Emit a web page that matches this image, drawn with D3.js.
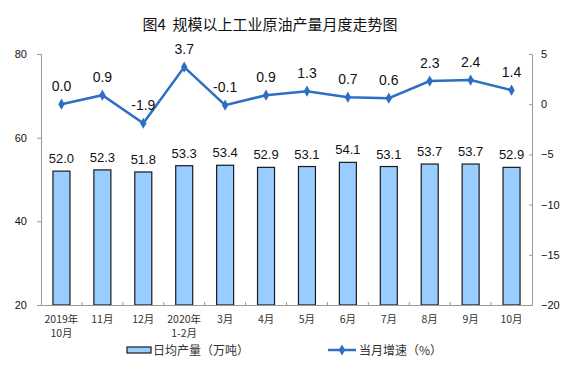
<!DOCTYPE html>
<html>
<head>
<meta charset="utf-8">
<script src="https://cdn.jsdelivr.net/npm/d3@7"></script>
<style>
  body { margin: 0; background: #fff; }
  text { font-family: "Liberation Sans", Arial, sans-serif; }
  .cjk { font-family: "Noto Sans CJK SC", sans-serif; }
</style>
</head>
<body>
<div id="chart"></div>
<script>
// data
var months = ["2019年\n10月", "11月", "12月", "2020年\n1-2月", "3月", "4月", "5月", "6月", "7月", "8月", "9月", "10月"];
var dailyOutput = [52.0, 52.3, 51.8, 53.3, 53.4, 52.9, 53.1, 54.1, 53.1, 53.7, 53.7, 52.9];
var growth = [0.0, 0.9, -1.9, 3.7, -0.1, 0.9, 1.3, 0.7, 0.6, 2.3, 2.4, 1.4];
var leftTicks = [20, 40, 60, 80];
var rightTicks = [-20, -15, -10, -5, 0, 5];

const W = 576, H = 384;
const margin = {top: 54, right: 44, bottom: 79, left: 41},
  width = W - margin.left - margin.right,
  height = H - margin.top - margin.bottom;

var svg = d3.select("#chart").append("svg")
  .attr("width", W).attr("height", H);

svg.append("text")
  .attr("class", "cjk")
  .attr("x", 270).attr("y", 30)
  .attr("text-anchor", "middle")
  .style("font-size", "15px")
  .style("fill", "#111")
  .text("图4\u00a0\u00a0规模以上工业原油产量月度走势图");

var g = svg.append("g").attr("transform", "translate(" + margin.left + "," + margin.top + ")");

var x = d3.scaleBand().domain(months).range([0, width]);
var yL = d3.scaleLinear().domain([20, 80]).range([height, 0]);
var yR = d3.scaleLinear().domain([-20, 5]).range([height, 0]);

// bars
g.selectAll(".bar")
  .data(dailyOutput)
  .enter().append("rect")
  .attr("x", (d, i) => x(months[i]) + x.bandwidth() / 2 - 8.5)
  .attr("y", d => yL(d))
  .attr("width", 17)
  .attr("height", d => height - yL(d))
  .attr("fill", "#99ccff")
  .attr("stroke", "#1a1a1a")
  .attr("stroke-width", 1.2);

g.selectAll(".barlabel")
  .data(dailyOutput)
  .enter().append("text")
  .attr("x", (d, i) => x(months[i]) + x.bandwidth() / 2)
  .attr("y", d => yL(d) - 8)
  .attr("text-anchor", "middle")
  .style("font-size", "13px")
  .style("fill", "#111")
  .text(d => d.toFixed(1));

// axes
var axL = g.append("g")
  .call(d3.axisLeft(yL).tickValues(leftTicks).tickSize(4).tickPadding(10));
var axR = g.append("g")
  .attr("transform", "translate(" + width + ",0)")
  .call(d3.axisRight(yR).tickValues(rightTicks).tickSize(-3).tickPadding(9));
var axB = g.append("g")
  .attr("transform", "translate(0," + height + ")")
  .call(d3.axisBottom(x).tickSize(0).tickFormat(""));

[axL, axR, axB].forEach(a => {
  a.select(".domain").attr("stroke", "#999");
  a.selectAll(".tick line").attr("stroke", "#999");
  a.selectAll("text").style("font-size", "11px").style("fill", "#111");
});

// small ticks between categories on the baseline
g.append("g").selectAll("line")
  .data(months.slice(1))
  .enter().append("line")
  .attr("x1", d => x(d)).attr("x2", d => x(d))
  .attr("y1", height).attr("y2", height - 3)
  .attr("stroke", "#999");

// category labels
var xl = g.append("g").selectAll("text")
  .data(months)
  .enter().append("text")
  .attr("class", "cjk")
  .attr("x", d => x(d) + x.bandwidth() / 2)
  .attr("y", height + 18)
  .attr("text-anchor", "middle")
  .style("font-size", "10.5px")
  .style("fill", "#333");
xl.each(function(d) {
  var parts = d.split("\n");
  var t = d3.select(this);
  parts.forEach((p, k) => {
    t.append("tspan")
      .attr("x", t.attr("x"))
      .attr("dy", k === 0 ? 0 : 14)
      .text(p);
  });
});

// growth line
var line = d3.line()
  .x((d, i) => x(months[i]) + x.bandwidth() / 2)
  .y(d => yR(d));

g.append("path")
  .datum(growth)
  .attr("fill", "none")
  .attr("stroke", "#2e6fc2")
  .attr("stroke-width", 2.5)
  .attr("d", line);

var diamond = d3.symbol().type(d3.symbolDiamond).size(36);
g.selectAll(".pt")
  .data(growth)
  .enter().append("path")
  .attr("d", diamond)
  .attr("transform", (d, i) => "translate(" + (x(months[i]) + x.bandwidth() / 2) + "," + yR(d) + ")")
  .attr("fill", "#2e6fc2");

g.selectAll(".ptlabel")
  .data(growth)
  .enter().append("text")
  .attr("x", (d, i) => x(months[i]) + x.bandwidth() / 2)
  .attr("y", d => yR(d) - 13)
  .attr("text-anchor", "middle")
  .style("font-size", "14px")
  .style("fill", "#111")
  .text(d => d.toFixed(1));

// legend
var lg = svg.append("g");
lg.append("rect")
  .attr("x", 127).attr("y", 347).attr("width", 24).attr("height", 6)
  .attr("fill", "#99ccff").attr("stroke", "#1a1a1a").attr("stroke-width", 1.2);
lg.append("text").attr("class", "cjk")
  .attr("x", 153).attr("y", 355)
  .style("font-size", "12px").style("fill", "#333")
  .text("日均产量（万吨）");
lg.append("line")
  .attr("x1", 328).attr("x2", 356).attr("y1", 350).attr("y2", 350)
  .attr("stroke", "#2e6fc2").attr("stroke-width", 2.5);
lg.append("path")
  .attr("d", diamond)
  .attr("transform", "translate(342,350)")
  .attr("fill", "#2e6fc2");
lg.append("text").attr("class", "cjk")
  .attr("x", 359).attr("y", 355)
  .style("font-size", "12px").style("fill", "#333")
  .text("当月增速（%）");
</script>
</body>
</html>
